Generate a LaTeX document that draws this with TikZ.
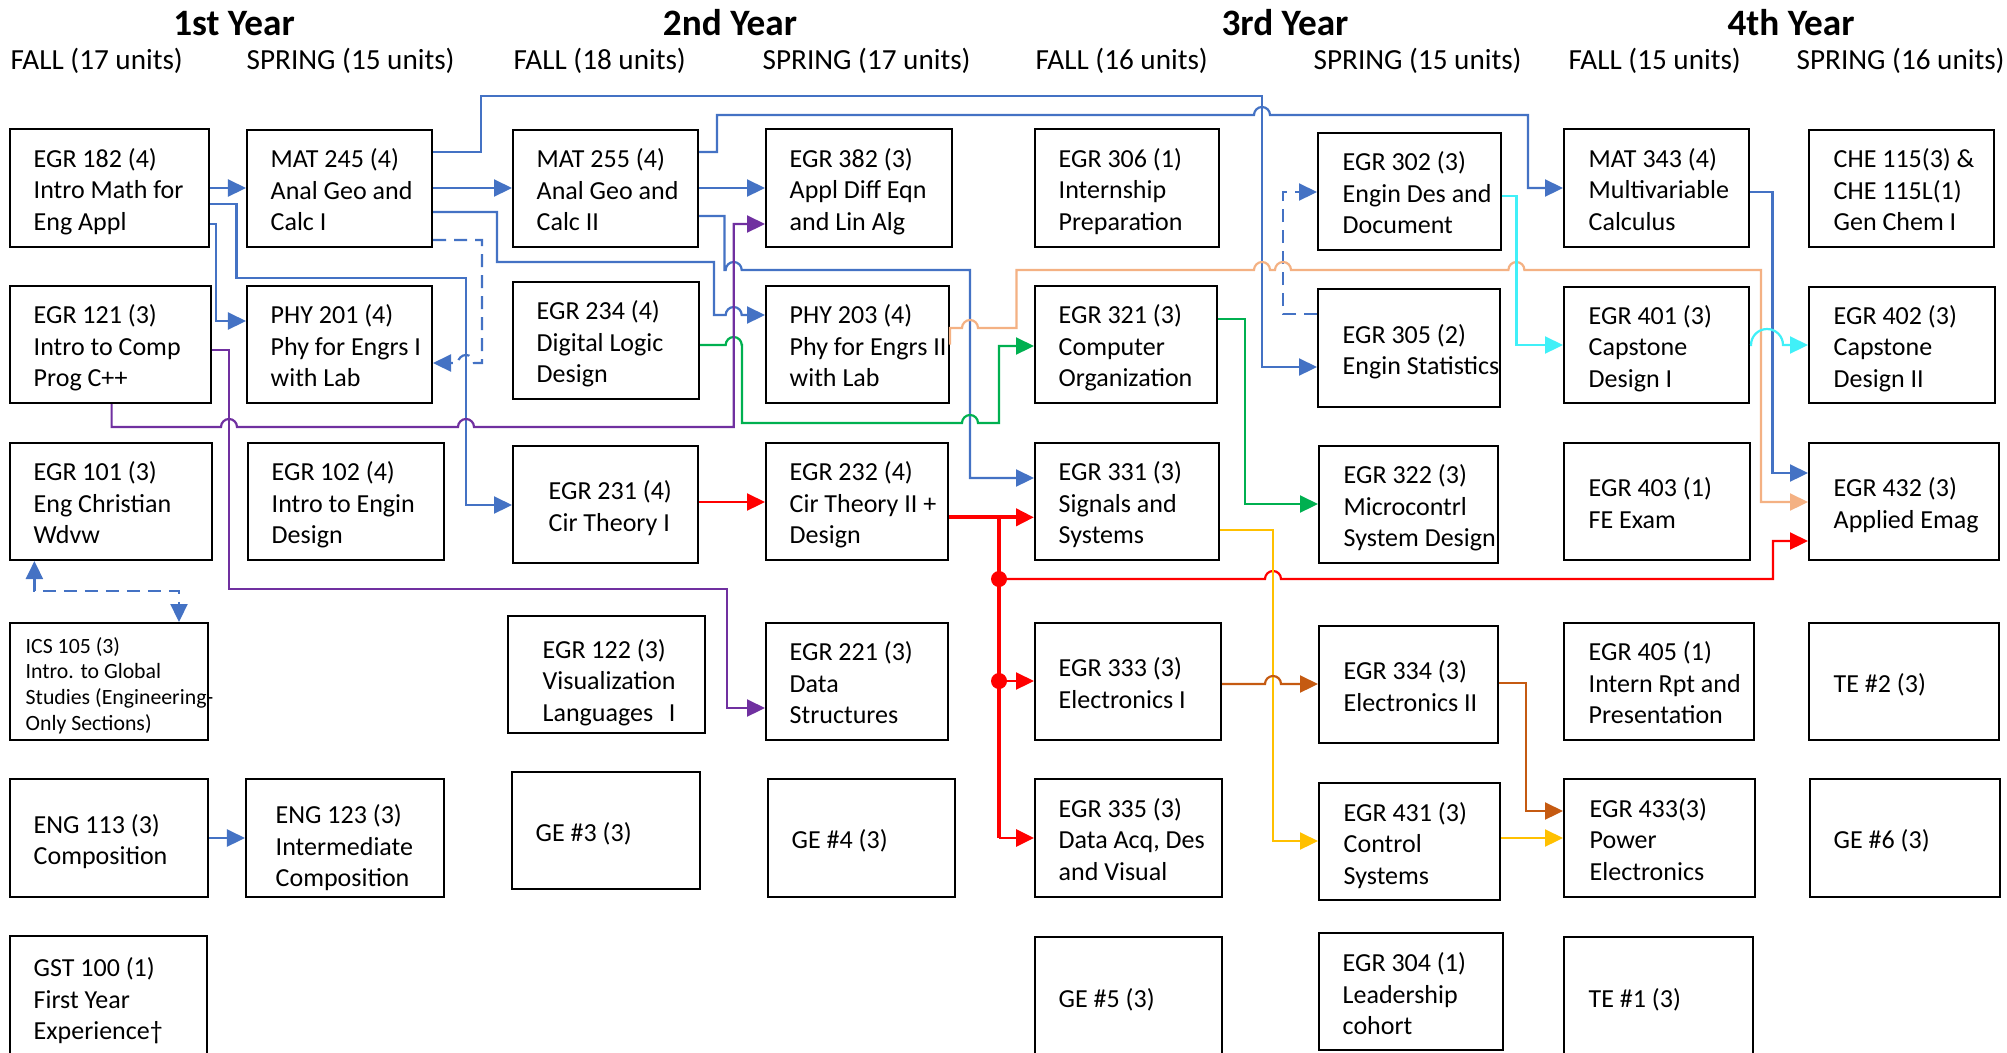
\documentclass[tikz,border=0pt]{standalone}
\usepackage{fontspec}
\setmainfont{Carlito}
\usetikzlibrary{arrows.meta}
\definecolor{cblue}{HTML}{4472C4}
\definecolor{cgreen}{HTML}{00B050}
\definecolor{cred}{HTML}{FF0000}
\definecolor{cpurple}{HTML}{7030A0}
\definecolor{corange}{HTML}{F4B183}
\definecolor{cyellow}{HTML}{FFC000}
\definecolor{cbrown}{HTML}{C55A11}
\definecolor{ccyan}{HTML}{40F0F8}
\newcommand\hopR[2]{-- ({#1-8},#2) arc[start angle=180,end angle=360,radius=8]}
\newcommand\hopL[2]{-- ({#1+8},#2) arc[start angle=0,end angle=-180,radius=8]}
\newcommand\icsfont{\fontsize{6.2pt}{7.3pt}\selectfont}
\newcommand\cbox[9][]{%
  \pgfmathsetmacro\cbw{(#5-#3)*0.1}%
  \pgfmathsetmacro\cbh{(#6-#4)*0.1}%
  \pgfmathsetmacro\cbi{#7*0.1}%
  \pgfmathsetmacro\cbd{-#8*0.1}%
  \node[box,minimum width=\cbw mm,minimum height=\cbh mm] (#2) at ({(#3+#5)/2},{(#4+#6)/2}) {};
  \node[btext,anchor=west,#1] (#2t) at ([xshift=\cbi mm,yshift=\cbd mm]#2.west) {\strut#9\strut};
}
\tikzset{
  box/.style={draw=black,line width=0.2mm,inner sep=0pt},
  btext/.style={font={\fontsize{7.4pt}{9pt}\selectfont},align=left,inner sep=0pt},
  yearhead/.style={font={\fontsize{10.6pt}{12pt}\selectfont\bfseries},anchor=base,inner sep=0pt},
  semhead/.style={font={\fontsize{8.3pt}{10pt}\selectfont},anchor=base west,inner sep=0pt},
  conn/.style={line width=0.22mm,-{Triangle[length=1.8mm,width=1.7mm]}},
  coreq/.style={conn,dash pattern=on 1.3mm off 0.8mm},
}
\begin{document}
\begin{tikzpicture}[x=0.1mm,y=-0.1mm]
\path[use as bounding box,fill=white] (0,0) rectangle (2007,1052);
% headers
\node[yearhead] (y1) at (234,35) {1st Year};
\node[yearhead] (y2) at (730,35) {2nd Year};
\node[yearhead] (y3) at (1285,35) {3rd Year};
\node[yearhead] (y4) at (1791,35) {4th Year};
\node[semhead] (s1) at (10,69) {FALL (17 units)};
\node[semhead] (s2) at (246,69) {SPRING (15 units)};
\node[semhead] (s3) at (513,69) {FALL (18 units)};
\node[semhead] (s4) at (762,69) {SPRING (17 units)};
\node[semhead] (s5) at (1035,69) {FALL (16 units)};
\node[semhead] (s6) at (1313,69) {SPRING (15 units)};
\node[semhead] (s7) at (1568,69) {FALL (15 units)};
\node[semhead] (s8) at (1796,69) {SPRING (16 units)};
% column 1
\cbox{b182}{10}{129}{209}{247}{24}{4.5}{EGR 182 (4)\\Intro Math for\\Eng Appl}
\cbox{b121}{10}{286}{211}{403}{24}{4.5}{EGR 121 (3)\\Intro to Comp\\Prog C++}
\cbox{b101}{10}{443}{212}{560}{24}{4.5}{EGR 101 (3)\\Eng Christian\\Wdvw}
\cbox[font=\icsfont]{bics}{10}{623}{208}{740}{16}{5}{ICS 105 (3)\\Intro. to Global\\Studies (Engineering-\\Only Sections)}
\cbox{b113}{10}{779}{208}{897}{24}{4.5}{ENG 113 (3)\\Composition}
\cbox{bgst}{10}{936}{207}{1056}{24}{6}{GST 100 (1)\\First Year\\Experience†}
% column 2
\cbox{b245}{247}{130}{432}{247}{24}{4.5}{MAT 245 (4)\\Anal Geo and\\Calc I}
\cbox{b201}{247}{286}{432}{403}{24}{4.5}{PHY 201 (4)\\Phy for Engrs I\\with Lab}
\cbox{b102}{248}{443}{444}{560}{24}{4.5}{EGR 102 (4)\\Intro to Engin\\Design}
\cbox{b123}{246}{779}{444}{897}{30}{11}{ENG 123 (3)\\Intermediate\\Composition}
% column 3
\cbox{b255}{513}{130}{698}{247}{24}{4.5}{MAT 255 (4)\\Anal Geo and\\Calc II}
\cbox{b234}{513}{282}{699}{399}{24}{4.5}{EGR 234 (4)\\Digital Logic\\Design}
\cbox{b231}{513}{446}{698}{563}{36}{4.5}{EGR 231 (4)\\Cir Theory I}
\cbox{b122}{508}{616}{705}{733}{35}{9}{EGR 122 (3)\\Visualization\\Languages\hspace{0.6em}I}
\cbox{bge3}{512}{772}{700}{889}{24}{4.5}{GE \#3 (3)}
% column 4
\cbox{b382}{766}{129}{952}{247}{24}{4.5}{EGR 382 (3)\\Appl Diff Eqn\\and Lin Alg}
\cbox{b203}{766}{286}{949}{403}{24}{4.5}{PHY 203 (4)\\Phy for Engrs II\\with Lab}
\cbox{b232}{766}{443}{948}{560}{24}{4.5}{EGR 232 (4)\\Cir Theory II +\\Design}
\cbox{b221}{766}{623}{948}{740}{24}{4.5}{EGR 221 (3)\\Data\\Structures}
\cbox{bge4}{768}{779}{955}{897}{24}{4.5}{GE \#4 (3)}
% column 5
\cbox{b306}{1035}{129}{1219}{247}{24}{4.5}{EGR 306 (1)\\Internship\\Preparation}
\cbox{b321}{1035}{286}{1217}{403}{24}{4.5}{EGR 321 (3)\\Computer\\Organization}
\cbox{b331}{1035}{443}{1219}{560}{24}{4.5}{EGR 331 (3)\\Signals and\\Systems}
\cbox{b333}{1035}{623}{1221}{740}{24}{4.5}{EGR 333 (3)\\Electronics I}
\cbox{b335}{1035}{779}{1222}{897}{24}{4.5}{EGR 335 (3)\\Data Acq, Des\\and Visual}
\cbox{bge5}{1035}{937}{1222}{1056}{24}{4.5}{GE \#5 (3)}
% column 6
\cbox{b302}{1318}{133}{1501}{250}{25}{4.5}{EGR 302 (3)\\Engin Des and\\Document}
\cbox{b305}{1318}{289}{1500}{407}{25}{4.5}{EGR 305 (2)\\Engin Statistics}
\cbox{b322}{1319}{446}{1498}{563}{25}{4.5}{EGR 322 (3)\\Microcontrl\\System Design}
\cbox{b334}{1319}{626}{1498}{743}{25}{4.5}{EGR 334 (3)\\Electronics II}
\cbox{b431}{1319}{783}{1500}{900}{25}{5}{EGR 431 (3)\\Control\\Systems}
\cbox{b304}{1319}{933}{1503}{1050}{24}{5.5}{EGR 304 (1)\\Leadership\\cohort}
% column 7
\cbox{b343}{1564}{129}{1749}{247}{25}{4.5}{MAT 343 (4)\\Multivariable\\Calculus}
\cbox{b401}{1564}{287}{1749}{403}{25}{4.5}{EGR 401 (3)\\Capstone\\Design I}
\cbox{b403}{1564}{443}{1750}{560}{25}{4.5}{EGR 403 (1)\\FE Exam}
\cbox{b405}{1564}{623}{1754}{740}{25}{4.5}{EGR 405 (1)\\Intern Rpt and\\Presentation}
\cbox{b433}{1564}{779}{1755}{897}{26}{4.5}{EGR 433(3)\\Power\\Electronics}
\cbox{bte1}{1564}{937}{1753}{1056}{25}{4.5}{TE \#1 (3)}
% column 8
\cbox{bche}{1809}{130}{1994}{247}{25}{4.5}{CHE 115(3) \&\\CHE 115L(1)\\Gen Chem I}
\cbox{b402}{1809}{287}{1995}{403}{25}{4.5}{EGR 402 (3)\\Capstone\\Design II}
\cbox{b432}{1809}{443}{1999}{560}{25}{4.5}{EGR 432 (3)\\Applied Emag}
\cbox{bte2}{1809}{623}{1999}{740}{25}{4.5}{TE \#2 (3)}
\cbox{bge6}{1810}{779}{2000}{897}{24}{4.5}{GE \#6 (3)}
% blue connectors
\draw[conn,cblue] (b182.east |- 0,188) -- (b245.west |- 0,188);
\draw[conn,cblue] (b182.east |- 0,224) -- (216,224) -- (216,321) -- (b201.west |- 0,321);
\draw[conn,cblue] (b182.east |- 0,204) -- (236.5,204) -- (236.5,278) -- (466,278) -- (466,505) -- (b231.west |- 0,505);
\draw[conn,cblue] (b245.east |- 0,188) -- (b255.west |- 0,188);
\draw[conn,cblue] (b245.east |- 0,152) -- (481,152) -- (481,96) -- (1262,96) -- (1262,367) -- (b305.west |- 0,367);
\draw[conn,cblue] (b245.east |- 0,212) -- (497,212) -- (497,262) -- (714,262) -- (714,315) \hopR{733.7}{315} -- (b203.west |- 0,315);
\draw[coreq,cblue] (b245.east |- 0,240) -- (482,240) -- (482,363) \hopL{466}{363} -- (b201.east |- 0,363);
\draw[conn,cblue] (b255.east |- 0,152) -- (717,152) -- (717,115) \hopR{1262}{115} -- (1528,115) -- (1528,188) -- (b343.west |- 0,188);
\draw[conn,cblue] (b255.east |- 0,188) -- (b382.west |- 0,188);
\draw[conn,cblue] (b255.east |- 0,216) -- (724.5,216) -- (724.5,270) \hopR{733.7}{270} -- (970,270) -- (970,478) -- (b331.west |- 0,478);
\draw[conn,cblue] (b343.east |- 0,192) -- (1772.5,192) -- (1772.5,473) -- (b432.west |- 0,473);
\draw[coreq,cblue] (b305.west |- 0,314) -- (1283,314) -- (1283,192) -- (b302.west |- 0,192);
\draw[conn,cblue] (b113.east |- 0,838) -- (b123.west |- 0,838);
\draw[coreq,cblue,{Triangle[length=1.8mm,width=1.7mm]}-{Triangle[length=1.8mm,width=1.7mm]}] (b101.south -| 34.4,0) -- (34.4,591) -- (179,591) -- (bics.north -| 179,0);
% green
\draw[conn,cgreen] (b234.east |- 0,345) \hopR{733.7}{345} -- (742,345) -- (742,423) \hopR{970}{423} -- (999,423) -- (999,346) -- (b321.west |- 0,346);
\draw[conn,cgreen] (b321.east |- 0,319) -- (1244.7,319) -- (1244.7,504) -- (b322.west |- 0,504);
% purple
\draw[conn,cpurple] (b121.south -| 111.6,0) -- (111.6,427) \hopR{229}{427} \hopR{466}{427} -- (733.7,427) -- (733.7,224) -- (b382.west |- 0,224);
\draw[conn,cpurple] (b121.east |- 0,350) -- (229,350) -- (229,589) -- (727,589) -- (727,708) -- (b221.west |- 0,708);
% red
\coordinate (rj) at (999,517.3);
\coordinate (rd1) at (999,579);
\coordinate (rd2) at (999,681);
\coordinate (rb) at (999,838);
\draw[conn,cred] (b231.east |- 0,502) -- (b232.west |- 0,502);
\draw[conn,cred,line width=0.4mm] (b232.east |- rj) -- (b331.west |- rj);
\draw[cred,line width=0.45mm] (rj) -- (rb);
\draw[conn,cred,line width=0.28mm] (rb) -- (b335.west |- rb);
\draw[conn,cred] (rd2) -- (b333.west |- rd2);
\draw[conn,cred] (rd1) \hopR{1273}{579} -- (1773,579) -- (1773,541) -- (b432.west |- 0,541);
\fill[cred] (rd1) circle[radius=8] (rd2) circle[radius=8];
% yellow
\draw[conn,cyellow] (b331.east |- 0,530) -- (1273,530) -- (1273,841) -- (b431.west |- 0,841);
\draw[conn,cyellow] (b431.east |- 0,838) -- (b433.west |- 0,838);
% brown
\draw[conn,cbrown] (b333.east |- 0,684) \hopR{1273}{684} -- (b334.west |- 0,684);
\draw[conn,cbrown] (b334.east |- 0,683) -- (1526,683) -- (1526,811) -- (b433.west |- 0,811);
% orange
\draw[conn,corange] (b203.east) -- (b203.east |- 0,328) \hopR{970}{328} -- (1016.5,328) -- (1016.5,270) \hopR{1262}{270} \hopR{1283}{270} \hopR{1516.4}{270} -- (1761,270) -- (1761,502) -- (b432.west |- 0,502);
% cyan
\draw[conn,ccyan] (b302.east |- 0,196) -- (1516.4,196) -- (1516.4,345) -- (b401.west |- 0,345);
\draw[conn,ccyan] (b401.east |- 0,345) -- (1751,345) arc[start angle=180,end angle=360,radius=16] -- (b402.west |- 0,345);
\end{tikzpicture}
\end{document}
